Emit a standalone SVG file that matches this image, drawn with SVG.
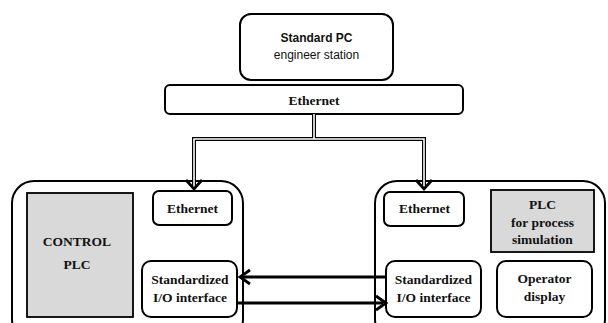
<svg xmlns="http://www.w3.org/2000/svg" width="608" height="323" viewBox="0 0 608 323">
<defs>
<style>
.box{fill:#fff;stroke:#000;stroke-width:2}
.grey{fill:#d9d9d9;stroke:#000;stroke-width:1.8}
.t{font-family:"Liberation Serif",serif;font-weight:bold;font-size:13.5px;text-anchor:middle;fill:#111}
.s{font-family:"Liberation Sans",Arial,sans-serif;font-size:12px;text-anchor:middle;fill:#111}
.dbl-o{fill:none;stroke:#000;stroke-width:4;stroke-linejoin:miter}
.dbl-i{fill:none;stroke:#fff;stroke-width:1.6;stroke-linejoin:miter}
.arr{fill:none;stroke:#000;stroke-width:3}
.head{fill:none;stroke:#000;stroke-width:2.8;stroke-linejoin:miter}
</style>
</defs>
<rect width="608" height="323" fill="#fff"/>
<g id="pc">
<rect class="box" x="240" y="14" width="153" height="66" rx="11"/>
<text class="s" x="316.5" y="42" font-weight="bold">Standard PC</text>
<text class="s" x="316.5" y="59" font-size="12.5">engineer station</text>
</g>
<g id="ethernet-bus">
<rect class="box" x="165" y="85" width="298" height="29" rx="5"/>
<text class="t" x="314" y="105">Ethernet</text>
</g>
<g id="control-system">
<rect class="box" x="12" y="181" width="231" height="160" rx="22"/>
<g id="control-plc">
<rect class="grey" x="27" y="193" width="106" height="124"/>
<text class="t" x="77" y="246">CONTROL</text>
<text class="t" x="77" y="269">PLC</text>
</g>
<g id="left-ethernet">
<rect class="box" x="153" y="191" width="79" height="34" rx="6"/>
<text class="t" x="192.5" y="213">Ethernet</text>
</g>
<g id="left-io">
<rect class="box" x="142" y="261" width="95" height="56" rx="9"/>
<text class="t" x="190" y="284">Standardized</text>
<text class="t" x="190" y="302">I/O interface</text>
</g>
</g>
<g id="simulation-system">
<rect class="box" x="375" y="181" width="230" height="160" rx="22"/>
<g id="right-ethernet">
<rect class="box" x="384" y="192" width="80" height="34" rx="6"/>
<text class="t" x="424.5" y="213">Ethernet</text>
</g>
<g id="plc-sim">
<rect class="grey" x="491" y="190" width="103" height="62"/>
<text class="t" x="542.5" y="209">PLC</text>
<text class="t" x="542.5" y="227">for process</text>
<text class="t" x="542.5" y="244">simulation</text>
</g>
<g id="right-io">
<rect class="box" x="386" y="261" width="95" height="56" rx="9"/>
<text class="t" x="433.5" y="284">Standardized</text>
<text class="t" x="433.5" y="302">I/O interface</text>
</g>
<g id="operator-display">
<rect class="box" x="497" y="261" width="95" height="56" rx="9"/>
<text class="t" x="544.5" y="283">Operator</text>
<text class="t" x="544.5" y="301">display</text>
</g>
</g>
<g id="connectors">
<path class="dbl-o" d="M314,115 V139 M194,186 V139 H424 V186"/>
<path class="dbl-i" d="M314,114 V139 M194,186 V139 H424 V186"/>
<path class="head" d="M186,180 L194,189 L202,180"/>
<path class="head" d="M416,180 L424,189 L432,180"/>
<path class="arr" d="M386,277 H240"/>
<path class="head" d="M250,270 L240,277 L250,284"/>
<path class="arr" d="M237,303 H383"/>
<path class="head" d="M376,296 L386,303 L376,310"/>
</g>
</svg>
